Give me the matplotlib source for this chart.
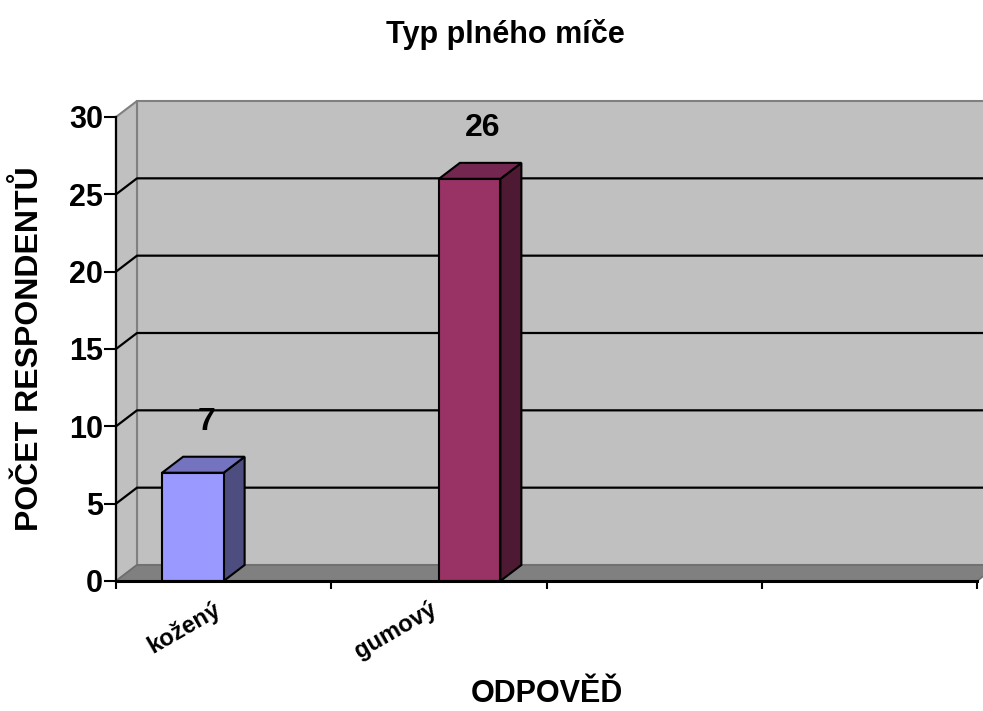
import numpy as np
import matplotlib
matplotlib.use("Agg")
import matplotlib.pyplot as plt
from matplotlib.patches import Polygon
import matplotlib.transforms as mtransforms

# ---- data ----
title = "Typ plného míče"
categories = ["kožený", "gumový", "", ""]
series_names = ["kožený", "gumový"]
series_values = [
    [7, np.nan, np.nan, np.nan],
    [np.nan, 26, np.nan, np.nan],
]
y_ticks = [0, 5, 10, 15, 20, 25, 30]
x_label = "ODPOVĚĎ"
y_label = "POČET RESPONDENTŮ"

# ---- style ----
front_cols = ["#9999FF", "#993366"]
top_cols = ["#7373BF", "#732650"]
side_cols = ["#4D4D80", "#4D1933"]
wall_col = "#C0C0C0"
floor_col = "#808080"
edge_gray = "#808080"
depth_px = (21, 16)
gap_width = 1.5

plt.rcParams["font.family"] = ["Liberation Sans", "DejaVu Sans"]
plt.rcParams["font.weight"] = "bold"

W, H = 983, 711
fig = plt.figure(figsize=(W / 100, H / 100), dpi=100)
ax = fig.add_axes([116 / W, 130 / H, 861 / W, 464 / H])
ncat = len(categories)
ax.set_xlim(0, ncat)
ax.set_ylim(y_ticks[0], y_ticks[-1])
fig.canvas.draw()

# depth offset in data units from pixel offset
p0 = ax.transData.transform((0, 0))
d = ax.transData.inverted().transform(p0 + np.array(depth_px))
dx, dy = d[0], d[1] - y_ticks[0]
ymax = y_ticks[-1]

# walls
back = Polygon([(dx, dy), (ncat + dx, dy), (ncat + dx, ymax + dy), (dx, ymax + dy)],
               closed=True, facecolor=wall_col, edgecolor=edge_gray, lw=1.5,
               clip_on=False, zorder=1)
ax.add_patch(back)
left = Polygon([(0, 0), (dx, dy), (dx, ymax + dy), (0, ymax)], closed=True,
               facecolor=wall_col, edgecolor=edge_gray, lw=1.5, clip_on=False, zorder=1)
ax.add_patch(left)
floor = Polygon([(0, 0), (ncat, 0), (ncat + dx, dy), (dx, dy)], closed=True,
                facecolor=floor_col, edgecolor="#6E6E6E", lw=1.2, clip_on=False, zorder=1.5)
ax.add_patch(floor)

# gridlines
for t in y_ticks[1:-1]:
    ax.plot([0, dx, ncat + dx], [t, t + dy, t + dy], color="black", lw=1.6,
            clip_on=False, zorder=2, solid_capstyle="butt")

# bars
nser = len(series_values)
bw = 1.0 / (nser + gap_width)
for s, vals in enumerate(series_values):
    for i, v in enumerate(vals):
        if np.isnan(v):
            continue
        x0 = i + gap_width * bw / 2 + s * bw
        x1 = x0 + bw
        ax.add_patch(Polygon([(x1, 0), (x1 + dx, dy), (x1 + dx, v + dy), (x1, v)], closed=True,
                             facecolor=side_cols[s], edgecolor="black", lw=1.5, zorder=3, clip_on=False))
        ax.add_patch(Polygon([(x0, v), (x1, v), (x1 + dx, v + dy), (x0 + dx, v + dy)], closed=True,
                             facecolor=top_cols[s], edgecolor="black", lw=1.5, zorder=3, clip_on=False))
        ax.add_patch(Polygon([(x0, 0), (x1, 0), (x1, v), (x0, v)], closed=True,
                             facecolor=front_cols[s], edgecolor="black", lw=1.5, zorder=4, clip_on=False))
        ax.annotate(f"{v:g}", ((x0 + x1) / 2 + dx / 2, v), xytext=(3, 51),
                    textcoords="offset pixels", ha="center", va="center",
                    fontsize=23, fontweight="bold", zorder=5)

# axes styling
for sp in ["top", "right"]:
    ax.spines[sp].set_visible(False)
ax.spines["left"].set_linewidth(1.6)
ax.spines["bottom"].set_linewidth(2.2)
ax.spines["left"].set_zorder(5)
ax.spines["bottom"].set_zorder(5)
ax.patch.set_visible(False)

ax.set_yticks(y_ticks)
ax.set_yticklabels([str(t) for t in y_ticks])
ax.tick_params(axis="y", direction="out", length=8.5, width=1.5, pad=1, labelsize=22)

ax.set_xticks(np.arange(ncat + 1))
ax.set_xticklabels([])
ax.tick_params(axis="x", which="major", direction="out", length=6, width=1.5)
ax.set_xticks(np.arange(ncat) + 0.5, minor=True)
ax.set_xticklabels(categories, minor=True, rotation=30, ha="right",
                   rotation_mode="anchor", fontsize=17, fontweight="bold")
ax.tick_params(axis="x", which="minor", length=0, pad=12)
shift = mtransforms.ScaledTranslation(-10 / 100, 0, fig.dpi_scale_trans)
for lab in ax.get_xticklabels(minor=True):
    lab.set_transform(lab.get_transform() + shift)

ax.set_ylabel(y_label, fontsize=23, fontweight="bold")
ax.yaxis.set_label_coords((45 - 116) / 861, 0.5)
ax.set_xlabel(x_label, fontsize=22, fontweight="bold", va="baseline")
ax.xaxis.set_label_coords(0.5, -(702 - 581) / 464)
fig.text(505 / W, 1 - 43 / H, title, ha="center", va="baseline", fontsize=22, fontweight="bold")

fig.savefig("out.png", dpi=100)
